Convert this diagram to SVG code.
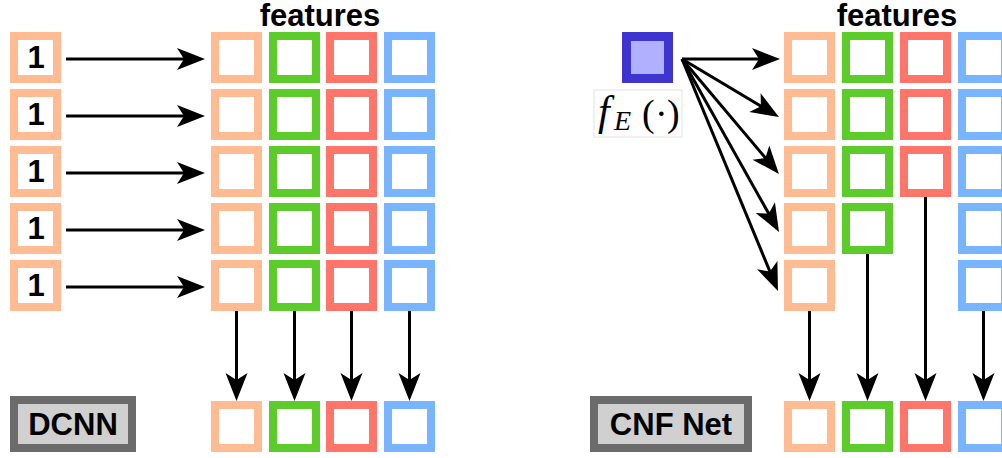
<svg xmlns="http://www.w3.org/2000/svg" width="1002" height="458" viewBox="0 0 1002 458">
  <style>
    .box { fill: #ffffff; stroke-width: 8; }
    .or { stroke: #ffbb91; }
    .gr { stroke: #5ccc2a; }
    .rd { stroke: #ff7569; }
    .bl { stroke: #78b4ff; }
    .src { fill: #b0b0ff; stroke: #4034d0; stroke-width: 9; }
    .tag { fill: #d0d0d0; stroke: #6b6b6b; stroke-width: 8; }
    .bold { font-family: "Liberation Sans", Arial, sans-serif; font-weight: bold; fill: #000; }
    .one { font-size: 31px; text-anchor: middle; }
    .head { font-size: 31px; text-anchor: middle; }
    .math { font-family: "Liberation Serif", "Times New Roman", serif; fill: #000; }
    .arrow { stroke: #000; stroke-width: 3; fill: none; marker-end: url(#tip); }
  </style>
  <defs>
    <marker id="tip" markerUnits="userSpaceOnUse" viewBox="-29 -12 30 24" markerWidth="30" markerHeight="24" refX="-8" refY="0" orient="auto">
      <path d="M0,0 L-28,-11 L-21,0 L-28,11 Z" fill="#000"/>
    </marker>
  </defs>

  <rect width="1002" height="458" fill="#ffffff"/>

  <!-- DCNN: constant inputs -->
  <g id="dcnn-in-1"><rect class="box or" x="14" y="36" width="43" height="43"/><text class="bold one" x="36" y="68">1</text></g>
  <g id="dcnn-in-2"><rect class="box or" x="14" y="93" width="43" height="43"/><text class="bold one" x="36" y="125">1</text></g>
  <g id="dcnn-in-3"><rect class="box or" x="14" y="150" width="43" height="43"/><text class="bold one" x="36" y="182">1</text></g>
  <g id="dcnn-in-4"><rect class="box or" x="14" y="207" width="43" height="43"/><text class="bold one" x="36" y="239">1</text></g>
  <g id="dcnn-in-5"><rect class="box or" x="14" y="264" width="43" height="43"/><text class="bold one" x="36" y="296">1</text></g>

  <!-- DCNN: feature grid -->
  <text id="dcnn-features-title" class="bold head" x="320" y="26">features</text>
  <g id="dcnn-f-1-or"><rect class="box or" x="215" y="36" width="43" height="43"/></g>
  <g id="dcnn-f-1-gr"><rect class="box gr" x="273" y="36" width="43" height="43"/></g>
  <g id="dcnn-f-1-rd"><rect class="box rd" x="330" y="36" width="43" height="43"/></g>
  <g id="dcnn-f-1-bl"><rect class="box bl" x="388" y="36" width="43" height="43"/></g>
  <g id="dcnn-f-2-or"><rect class="box or" x="215" y="93" width="43" height="43"/></g>
  <g id="dcnn-f-2-gr"><rect class="box gr" x="273" y="93" width="43" height="43"/></g>
  <g id="dcnn-f-2-rd"><rect class="box rd" x="330" y="93" width="43" height="43"/></g>
  <g id="dcnn-f-2-bl"><rect class="box bl" x="388" y="93" width="43" height="43"/></g>
  <g id="dcnn-f-3-or"><rect class="box or" x="215" y="150" width="43" height="43"/></g>
  <g id="dcnn-f-3-gr"><rect class="box gr" x="273" y="150" width="43" height="43"/></g>
  <g id="dcnn-f-3-rd"><rect class="box rd" x="330" y="150" width="43" height="43"/></g>
  <g id="dcnn-f-3-bl"><rect class="box bl" x="388" y="150" width="43" height="43"/></g>
  <g id="dcnn-f-4-or"><rect class="box or" x="215" y="207" width="43" height="43"/></g>
  <g id="dcnn-f-4-gr"><rect class="box gr" x="273" y="207" width="43" height="43"/></g>
  <g id="dcnn-f-4-rd"><rect class="box rd" x="330" y="207" width="43" height="43"/></g>
  <g id="dcnn-f-4-bl"><rect class="box bl" x="388" y="207" width="43" height="43"/></g>
  <g id="dcnn-f-5-or"><rect class="box or" x="215" y="264" width="43" height="43"/></g>
  <g id="dcnn-f-5-gr"><rect class="box gr" x="273" y="264" width="43" height="43"/></g>
  <g id="dcnn-f-5-rd"><rect class="box rd" x="330" y="264" width="43" height="43"/></g>
  <g id="dcnn-f-5-bl"><rect class="box bl" x="388" y="264" width="43" height="43"/></g>

  <!-- DCNN: outputs -->
  <g id="dcnn-out-or"><rect class="box or" x="215" y="405" width="43" height="43"/></g>
  <g id="dcnn-out-gr"><rect class="box gr" x="273" y="405" width="43" height="43"/></g>
  <g id="dcnn-out-rd"><rect class="box rd" x="330" y="405" width="43" height="43"/></g>
  <g id="dcnn-out-bl"><rect class="box bl" x="388" y="405" width="43" height="43"/></g>

  <g id="dcnn-label"><rect class="tag" x="14" y="400" width="118" height="48"/><text class="bold head" x="73" y="435">DCNN</text></g>

  <!-- CNF Net: encoder -->
  <g id="cnf-encoder">
    <rect class="src" x="626.5" y="36.5" width="42" height="42"/>
  </g>
  <g id="cnf-encoder-label">
    <rect x="594" y="90" width="88" height="47" fill="#ffffff" stroke="#e2e2e2" stroke-width="1"/>
    <text class="math" font-size="42" font-style="italic" x="598" y="125">f</text>
    <text class="math" font-size="28" font-style="italic" x="614" y="130">E</text>
    <text class="math" font-size="38" x="642" y="126">(</text>
    <text class="math" font-size="38" x="655" y="126">·</text>
    <text class="math" font-size="38" x="667" y="126">)</text>
  </g>

  <!-- CNF Net: feature grid -->
  <text id="cnf-features-title" class="bold head" x="897" y="26">features</text>
  <g id="cnf-f-1-or"><rect class="box or" x="788" y="36" width="43" height="43"/></g>
  <g id="cnf-f-1-gr"><rect class="box gr" x="846" y="36" width="43" height="43"/></g>
  <g id="cnf-f-1-rd"><rect class="box rd" x="904" y="36" width="43" height="43"/></g>
  <g id="cnf-f-1-bl"><rect class="box bl" x="962" y="36" width="43" height="43"/></g>
  <g id="cnf-f-2-or"><rect class="box or" x="788" y="93" width="43" height="43"/></g>
  <g id="cnf-f-2-gr"><rect class="box gr" x="846" y="93" width="43" height="43"/></g>
  <g id="cnf-f-2-rd"><rect class="box rd" x="904" y="93" width="43" height="43"/></g>
  <g id="cnf-f-2-bl"><rect class="box bl" x="962" y="93" width="43" height="43"/></g>
  <g id="cnf-f-3-or"><rect class="box or" x="788" y="150" width="43" height="43"/></g>
  <g id="cnf-f-3-gr"><rect class="box gr" x="846" y="150" width="43" height="43"/></g>
  <g id="cnf-f-3-rd"><rect class="box rd" x="904" y="150" width="43" height="43"/></g>
  <g id="cnf-f-3-bl"><rect class="box bl" x="962" y="150" width="43" height="43"/></g>
  <g id="cnf-f-4-or"><rect class="box or" x="788" y="207" width="43" height="43"/></g>
  <g id="cnf-f-4-gr"><rect class="box gr" x="846" y="207" width="43" height="43"/></g>
  <g id="cnf-f-4-bl"><rect class="box bl" x="962" y="207" width="43" height="43"/></g>
  <g id="cnf-f-5-or"><rect class="box or" x="788" y="264" width="43" height="43"/></g>
  <g id="cnf-f-5-bl"><rect class="box bl" x="962" y="264" width="43" height="43"/></g>

  <!-- CNF Net: outputs -->
  <g id="cnf-out-or"><rect class="box or" x="788" y="405" width="43" height="43"/></g>
  <g id="cnf-out-gr"><rect class="box gr" x="846" y="405" width="43" height="43"/></g>
  <g id="cnf-out-rd"><rect class="box rd" x="904" y="405" width="43" height="43"/></g>
  <g id="cnf-out-bl"><rect class="box bl" x="962" y="405" width="43" height="43"/></g>

  <g id="cnf-label"><rect class="tag" x="594" y="400" width="154" height="48"/><text class="bold head" x="671" y="435">CNF Net</text></g>

  <!-- Connectors -->
  <g id="connectors">
    <line class="arrow" x1="66" y1="59" x2="197" y2="59"/>
    <line class="arrow" x1="66" y1="116" x2="197" y2="116"/>
    <line class="arrow" x1="66" y1="173" x2="197" y2="173"/>
    <line class="arrow" x1="66" y1="230" x2="197" y2="230"/>
    <line class="arrow" x1="66" y1="287" x2="197" y2="287"/>

    <line class="arrow" x1="236.5" y1="311" x2="236.5" y2="393"/>
    <line class="arrow" x1="294.5" y1="311" x2="294.5" y2="393"/>
    <line class="arrow" x1="351.5" y1="311" x2="351.5" y2="393"/>
    <line class="arrow" x1="409.5" y1="311" x2="409.5" y2="393"/>

    <line class="arrow" x1="682" y1="59" x2="772" y2="59"/>
    <line class="arrow" x1="682" y1="59" x2="772.1" y2="112.9"/>
    <line class="arrow" x1="682" y1="59" x2="773.8" y2="167.9"/>
    <line class="arrow" x1="682" y1="59" x2="775.1" y2="225"/>
    <line class="arrow" x1="682" y1="59" x2="774.9" y2="283.6"/>

    <line class="arrow" x1="809.5" y1="311" x2="809.5" y2="393"/>
    <line class="arrow" x1="867.5" y1="254" x2="867.5" y2="393"/>
    <line class="arrow" x1="925.5" y1="197" x2="925.5" y2="393"/>
    <line class="arrow" x1="983.5" y1="311" x2="983.5" y2="393"/>
  </g>
</svg>
